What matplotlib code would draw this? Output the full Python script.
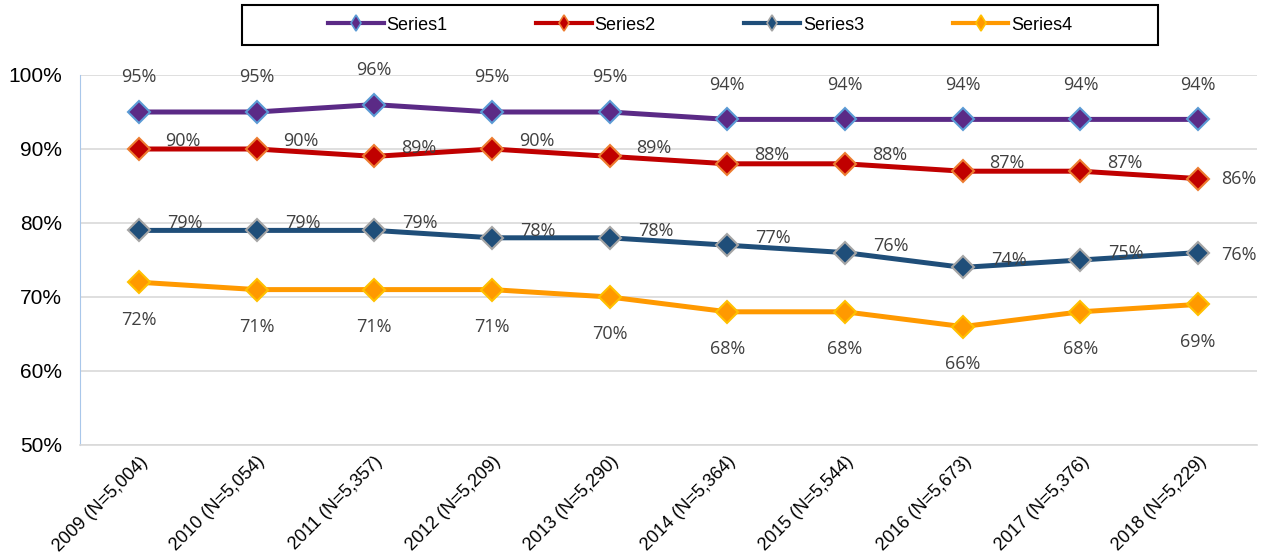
import matplotlib.pyplot as plt
from matplotlib.lines import Line2D
from matplotlib.patches import Rectangle

plt.rcParams['font.family'] = ['Liberation Sans', 'DejaVu Sans']

# data
years = ['2009 (N=5,004)', '2010 (N=5,054)', '2011 (N=5,357)', '2012 (N=5,209)',
         '2013 (N=5,290)', '2014 (N=5,364)', '2015 (N=5,544)', '2016 (N=5,673)',
         '2017 (N=5,376)', '2018 (N=5,229)']
series1 = [95, 95, 96, 95, 95, 94, 94, 94, 94, 94]
series2 = [90, 90, 89, 90, 89, 88, 88, 87, 87, 86]
series3 = [79, 79, 79, 78, 78, 77, 76, 74, 75, 76]
series4 = [72, 71, 71, 71, 70, 68, 68, 66, 68, 69]
names = ['Series1', 'Series2', 'Series3', 'Series4']

# styles: line colour, marker edge colour, label offset (pts), last-label offset
styles = [
    ('#5B2A86', '#5B9BD5', (0, 25), (0, 25)),
    ('#C00000', '#ED7D31', (32, 6), (29, 0)),
    ('#1F4E79', '#A5A5A5', (33, 5), (29, -2)),
    ('#FF9900', '#FFC000', (0, -27), (0, -27)),
]

fig = plt.figure(figsize=(12.72, 5.57), dpi=100)
ax = fig.add_axes([80 / 1272, 1 - 445 / 557, 1177 / 1272, 370 / 557])

x = list(range(len(years)))
for vals, (lc, ec, off, off_last) in zip([series1, series2, series3, series4], styles):
    ax.plot(x, vals, color=lc, lw=3.6, marker='D', ms=11,
            mfc=lc, mec=ec, mew=1.5, zorder=3)
    for i, v in enumerate(vals):
        o = off_last if i == len(vals) - 1 else off
        ax.annotate(f'{v}%', (i, v), xytext=o, textcoords='offset points',
                    ha='center', va='center', fontsize=13, color='#404040',
                    family=['Open Sans', 'DejaVu Sans'], zorder=4)

ax.set_xlim(-0.5, len(years) - 0.5)
ax.set_ylim(50, 100)
ax.set_yticks([50, 60, 70, 80, 90, 100])
ax.set_yticklabels([f'{t}%' for t in [50, 60, 70, 80, 90, 100]], fontsize=15)
ax.set_xticks(x)
ax.set_xticklabels(years, rotation=45, ha='right', rotation_mode='anchor', fontsize=13)
ax.tick_params(axis='y', length=0, pad=13)
ax.tick_params(axis='x', length=0, pad=6)
ax.grid(axis='y', color='#D9D9D9', lw=1.2)
ax.set_axisbelow(True)
for s in ['top', 'right']:
    ax.spines[s].set_visible(False)
ax.spines['left'].set_color('#A9C7EA')
ax.spines['bottom'].set_color('#D9D9D9')
ax.spines['bottom'].set_linewidth(1.2)

# legend box
fig.patches.append(Rectangle((242 / 1272, 1 - 45 / 557), 916 / 1272, 40 / 557,
                             transform=fig.transFigure, fill=False,
                             edgecolor='black', lw=1.5))
handles = [Line2D([], [], color=lc, lw=3, marker='d', ms=8, mfc=lc, mec=ec, mew=1.2)
           for lc, ec, _, _ in styles]
fig.legend(handles, names, loc='center', bbox_to_anchor=(700 / 1272, 1 - 25 / 557),
           ncol=4, frameon=False, fontsize=13, handlelength=3.1,
           handletextpad=0.15, columnspacing=4.9)

fig.savefig('out.png', dpi=100)
